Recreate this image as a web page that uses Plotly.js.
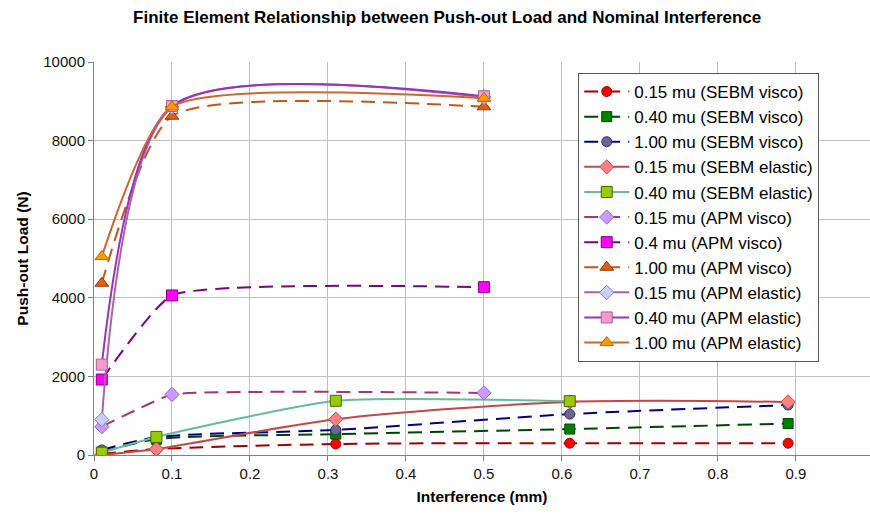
<!DOCTYPE html>
<html>
<head>
<meta charset="utf-8">
<script src="https://cdn.plot.ly/plotly-3.0.1.min.js"></script>
<style>html,body{margin:0;padding:0;background:#fff;}#chart{width:870px;height:514px;}</style>
</head>
<body>
<div id="chart"></div>
<script>
// ---- data ----
const seriesNames = [
  "0.15 mu (SEBM visco)", "0.40 mu (SEBM visco)", "1.00 mu (SEBM visco)",
  "0.15 mu (SEBM elastic)", "0.40 mu (SEBM elastic)",
  "0.15 mu (APM visco)", "0.4 mu (APM visco)", "1.00 mu (APM visco)",
  "0.15 mu (APM elastic)", "0.40 mu (APM elastic)", "1.00 mu (APM elastic)"
];
const sebmX = [0.01, 0.08, 0.31, 0.61, 0.89];
const sebmElastic040X = [0.01, 0.08, 0.31, 0.61];
const apmX = [0.01, 0.1, 0.5];

const sebmVisco015 = [30, 150, 280, 300, 300];
const sebmVisco040 = [70, 400, 530, 660, 800];
const sebmVisco100 = [130, 450, 640, 1040, 1270];
const sebmElastic015 = [0, 150, 910, 1350, 1350];
const sebmElastic040 = [60, 460, 1380, 1370];
const apmVisco015 = [720, 1540, 1580];
const apmVisco040 = [1920, 4060, 4270];
const apmVisco100 = [4370, 8620, 8860];
const apmElastic015 = [900, 8850, 9100];
const apmElastic040 = [2300, 8880, 9130];
const apmElastic100 = [5050, 8860, 9080];

const xTickVals = [0, 0.1, 0.2, 0.3, 0.4, 0.5, 0.6, 0.7, 0.8, 0.9];
const yTickVals = [0, 2000, 4000, 6000, 8000, 10000];

// ---- styles ----
const DASH = "14px,8px";
function tr(name, x, y, lineColor, dash, sym, fill, edge, size, smooth) {
  return {
    type: "scatter", mode: "lines+markers", name: name, x: x, y: y,
    line: {color: lineColor, width: 2, dash: dash, shape: "spline", smoothing: smooth},
    marker: {symbol: sym, color: fill, size: size, line: {color: edge, width: 1}}
  };
}
const data = [
  tr(seriesNames[0], sebmX, sebmVisco015, "#a00000", DASH, "circle", "#ff0000", "#a00000", 10, 0.8),
  tr(seriesNames[1], sebmX, sebmVisco040, "#004400", DASH, "square", "#008000", "#004400", 10, 0.8),
  tr(seriesNames[2], sebmX, sebmVisco100, "#000080", DASH, "circle", "#666699", "#333366", 10, 0.8),
  tr(seriesNames[3], sebmX, sebmElastic015, "#c04848", "solid", "diamond", "#ff8080", "#c04848", 11, 0.8),
  tr(seriesNames[4], sebmElastic040X, sebmElastic040, "#66bb99", "solid", "square", "#99cc00", "#4d6600", 11, 0.55),
  tr(seriesNames[5], apmX, apmVisco015, "#a03a6a", DASH, "diamond", "#cc99ff", "#9966cc", 11, 0.3),
  tr(seriesNames[6], apmX, apmVisco040, "#800080", DASH, "square", "#ff00ff", "#800080", 11, 0.43),
  tr(seriesNames[7], apmX, apmVisco100, "#c05818", DASH, "triangle-up", "#e06010", "#993300", 12, 0.58),
  tr(seriesNames[8], apmX, apmElastic015, "#b060a8", "solid", "diamond", "#ccccff", "#8080b0", 11, 0.77),
  tr(seriesNames[9], apmX, apmElastic040, "#9933bb", "solid", "square", "#ff99cc", "#996699", 11, 0.77),
  tr(seriesNames[10], apmX, apmElastic100, "#cc6633", "solid", "triangle-up", "#ff9900", "#cc6600", 12, 0.58)
];

const font = "Liberation Sans, Arial, Helvetica, sans-serif";
const layout = {
  width: 870, height: 514,
  margin: {l: 94, r: 0, t: 62, b: 59},
  paper_bgcolor: "#ffffff", plot_bgcolor: "#ffffff",
  font: {family: font, color: "#000", size: 14},
  title: {text: "<b>Finite Element Relationship between Push-out Load and Nominal Interference</b>",
    font: {family: font, size: 17, color: "#000"}, x: 0.514, xref: "container", xanchor: "center",
    y: 0.967, yref: "container", yanchor: "middle"},
  xaxis: {range: [0, 0.995], tickvals: xTickVals, ticktext: xTickVals.map(String),
    showgrid: true, gridcolor: "#c0c0c0", gridwidth: 1, zeroline: false,
    showline: true, linecolor: "#808080", linewidth: 1, ticks: "outside", ticklen: 5, tickcolor: "#808080",
    tickfont: {size: 15, color: "#111"},
    title: {text: "<b>Interference (mm)</b>", font: {size: 15.5}, standoff: 10}},
  yaxis: {range: [0, 10000], tickvals: yTickVals, tickformat: "d",
    showgrid: true, gridcolor: "#c0c0c0", gridwidth: 1, zeroline: false,
    showline: true, linecolor: "#808080", linewidth: 1, ticks: "outside", ticklen: 5, tickcolor: "#808080",
    tickfont: {size: 15, color: "#111"},
    title: {text: "<b>Push-out Load (N)</b>", font: {size: 15.5}, standoff: 10}},
  legend: {x: 0.624, y: 0.972, xanchor: "left", yanchor: "top", bgcolor: "#ffffff",
    bordercolor: "#555555", borderwidth: 1, font: {size: 17, color: "#000"}, traceorder: "normal",
    itemwidth: 45},
  showlegend: true
};
Plotly.newPlot("chart", data, layout, {displayModeBar: false, staticPlot: true});
</script>
</body>
</html>
